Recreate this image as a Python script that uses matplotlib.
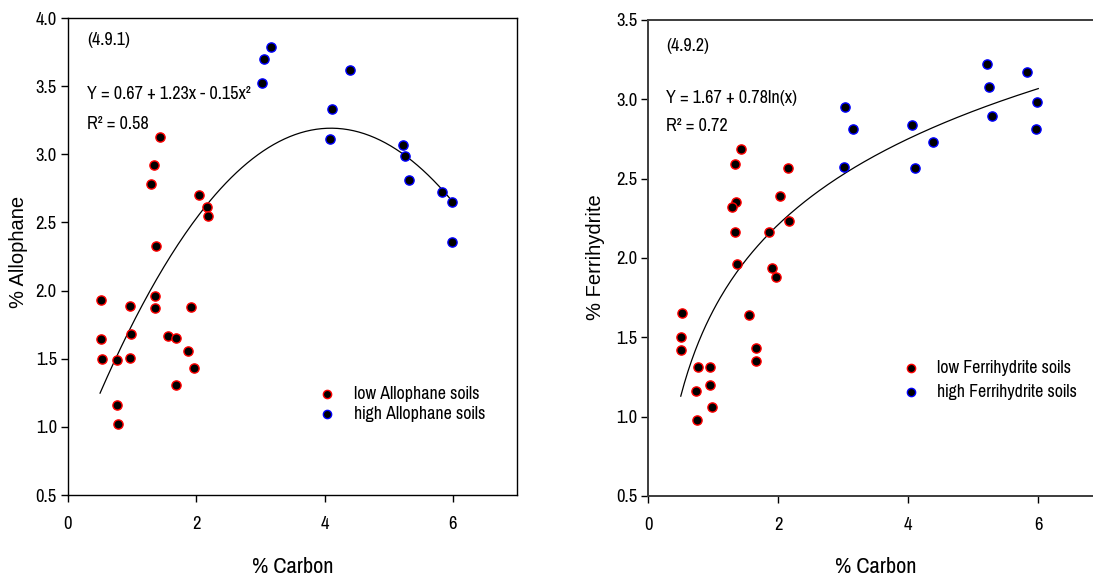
import matplotlib
matplotlib.use("Agg")
import matplotlib.pyplot as plt
from matplotlib import font_manager as fm
import numpy as np

_avail = set(f.name for f in fm.fontManager.ttflist)

def pick(cands):
    for c in cands:
        if c in _avail:
            return [c, 'DejaVu Sans']
    return ['DejaVu Sans']

NARROW = pick(['Arial Narrow', 'Liberation Sans Narrow', 'Pragati Narrow',
               'Archivo Narrow', 'Roboto Condensed', 'PT Sans Narrow', 'Liberation Sans'])
REGULAR = pick(['Arial', 'Arimo', 'Liberation Sans'])

# ---- Panel 4.9.1 : Allophane ----
allo_low_x = [1.44, 1.34, 1.30, 2.04, 2.17, 2.18, 1.37, 1.36, 0.51, 1.36, 0.96, 1.92,
              0.52, 0.98, 1.56, 1.68, 0.53, 0.77, 0.96, 1.87, 1.97, 1.68, 0.76, 0.78]
allo_low_y = [3.13, 2.92, 2.78, 2.70, 2.61, 2.55, 2.33, 1.96, 1.93, 1.87, 1.89, 1.88,
              1.645, 1.68, 1.67, 1.65, 1.50, 1.49, 1.505, 1.56, 1.43, 1.31, 1.16, 1.02]
allo_high_x = [3.02, 3.05, 3.17, 4.39, 4.11, 4.08, 5.22, 5.25, 5.31, 5.83, 5.99, 5.98]
allo_high_y = [3.52, 3.70, 3.79, 3.62, 3.33, 3.11, 3.07, 2.99, 2.81, 2.72, 2.65, 2.36]
allo_coef = [0.67, 1.23, -0.15]   # Y = a + b x + c x^2

# ---- Panel 4.9.2 : Ferrihydrite ----
ferr_low_x = [1.43, 1.33, 2.15, 1.35, 1.29, 2.02, 2.16, 1.34, 1.86, 1.36, 1.91, 1.96,
              0.52, 0.50, 0.50, 1.55, 1.66, 1.66, 0.76, 0.95, 0.74, 0.95, 0.975, 0.75]
ferr_low_y = [2.69, 2.59, 2.57, 2.35, 2.32, 2.39, 2.23, 2.165, 2.165, 1.96, 1.94, 1.88,
              1.655, 1.50, 1.417, 1.64, 1.43, 1.35, 1.31, 1.31, 1.16, 1.20, 1.06, 0.976]
ferr_high_x = [3.03, 3.01, 3.15, 4.06, 4.10, 4.375, 5.21, 5.24, 5.29, 5.82, 5.975, 5.965]
ferr_high_y = [2.95, 2.575, 2.81, 2.84, 2.57, 2.73, 3.22, 3.08, 2.895, 3.17, 2.98, 2.81]
ferr_coef = [1.67, 0.78]          # Y = a + b ln(x)

x_ticks = [0, 2, 4, 6]
allo_yticks = [0.5, 1.0, 1.5, 2.0, 2.5, 3.0, 3.5, 4.0]
ferr_yticks = [0.5, 1.0, 1.5, 2.0, 2.5, 3.0, 3.5]
fit_range = [0.5, 6.0]

fig = plt.figure(figsize=(10.93, 5.81), dpi=100)
ax1 = fig.add_axes([0.0622, 0.148, 0.4108, 0.821])
ax2 = fig.add_axes([0.5931, 0.1463, 0.4163, 0.8193])

mk = dict(marker='o', s=44, linewidths=1.0, zorder=3)
TXT = 14.2

def style(ax, yticks, ylabel, spine_color, spine_lw):
    ax.set_xlim(0, 7)
    ax.set_xticks(x_ticks)
    ax.set_xticklabels([str(t) for t in x_ticks])
    ax.set_yticks(yticks)
    ax.set_yticklabels([f"{t:.1f}" for t in yticks])
    ax.tick_params(axis='x', direction='out', length=5, width=1, pad=10)
    ax.tick_params(axis='y', direction='out', length=5, width=1, pad=3)
    for lab in ax.get_xticklabels() + ax.get_yticklabels():
        lab.set_fontfamily(NARROW)
        lab.set_fontsize(14.5)
    for sp in ax.spines.values():
        sp.set_color(spine_color)
        sp.set_linewidth(spine_lw)
    ax.set_xlabel('% Carbon', fontfamily=NARROW, fontsize=17.5)
    ax.xaxis.label.set_va('center')
    ax.set_ylabel(ylabel, fontfamily=REGULAR, fontsize=14.5)
    ax.yaxis.label.set_va('center')

# Left panel
ax1.scatter(allo_low_x, allo_low_y, facecolor='black', edgecolor='red',
            label='low Allophane soils', **mk)
ax1.scatter(allo_high_x, allo_high_y, facecolor='black', edgecolor='blue',
            label='high Allophane soils', **mk)
xf = np.linspace(fit_range[0], fit_range[1], 200)
ax1.plot(xf, allo_coef[0] + allo_coef[1] * xf + allo_coef[2] * xf ** 2,
         color='black', lw=0.9, zorder=2)
ax1.set_ylim(0.5, 4.0)
style(ax1, allo_yticks, '% Allophane', 'black', 1.0)
ax1.xaxis.set_label_coords(0.5, -0.151)
ax1.yaxis.set_label_coords(-0.111, 0.509)
ax1.text(0.30, 3.84, '(4.9.1)', fontfamily=NARROW, fontsize=TXT, va='center', ha='left')
ax1.text(0.30, 3.44, 'Y = 0.67 + 1.23x - 0.15x²', fontfamily=NARROW, fontsize=TXT,
         va='center', ha='left')
ax1.text(0.30, 3.22, 'R² = 0.58', fontfamily=NARROW, fontsize=TXT, va='center', ha='left')
ax1.legend(loc='center left', bbox_to_anchor=(0.556, 0.192), frameon=False,
           prop={'family': NARROW, 'size': 14}, handlelength=1.0, handletextpad=0.85,
           labelspacing=0.17, borderpad=0, borderaxespad=0, scatterpoints=1,
           markerscale=0.9)

# Right panel
ax2.scatter(ferr_low_x, ferr_low_y, facecolor='black', edgecolor='red',
            label='low Ferrihydrite soils', **mk)
ax2.scatter(ferr_high_x, ferr_high_y, facecolor='black', edgecolor='blue',
            label='high Ferrihydrite soils', **mk)
ax2.plot(xf, ferr_coef[0] + ferr_coef[1] * np.log(xf), color='black', lw=0.9, zorder=2)
ax2.set_ylim(0.5, 3.5)
style(ax2, ferr_yticks, '% Ferrihydrite', '#3c3c3c', 1.4)
ax2.xaxis.set_label_coords(0.5, -0.149)
ax2.yaxis.set_label_coords(-0.117, 0.502)
ax2.text(0.28, 3.335, '(4.9.2)', fontfamily=NARROW, fontsize=TXT, va='center', ha='left')
ax2.text(0.28, 3.01, 'Y = 1.67 + 0.78ln(x)', fontfamily=NARROW, fontsize=TXT,
         va='center', ha='left')
ax2.text(0.28, 2.835, 'R² = 0.72', fontfamily=NARROW, fontsize=TXT, va='center', ha='left')
ax2.legend(loc='center left', bbox_to_anchor=(0.555, 0.244), frameon=False,
           prop={'family': NARROW, 'size': 14}, handlelength=1.0, handletextpad=0.85,
           labelspacing=0.38, borderpad=0, borderaxespad=0, scatterpoints=1,
           markerscale=0.9)

fig.savefig('out.png', dpi=100)
